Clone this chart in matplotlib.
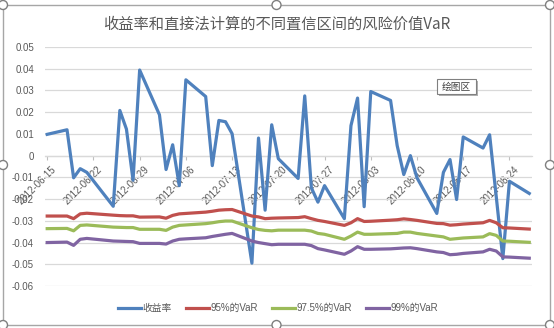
import matplotlib
matplotlib.use("Agg")
import matplotlib.pyplot as plt
import matplotlib.dates as mdates
from matplotlib.patches import Rectangle, Circle
from matplotlib.transforms import ScaledTranslation
from matplotlib.ticker import FuncFormatter, MultipleLocator
import pandas as pd

plt.rcParams['font.family'] = ['Liberation Sans', 'Noto Sans CJK SC', 'DejaVu Sans']

dates = ["2012-06-15", "2012-06-18", "2012-06-19", "2012-06-20", "2012-06-21",
         "2012-06-25", "2012-06-26", "2012-06-27", "2012-06-28", "2012-06-29",
         "2012-07-02", "2012-07-03", "2012-07-04", "2012-07-05", "2012-07-06",
         "2012-07-09", "2012-07-10", "2012-07-11", "2012-07-12", "2012-07-13",
         "2012-07-16", "2012-07-17", "2012-07-18", "2012-07-19", "2012-07-20",
         "2012-07-23", "2012-07-24", "2012-07-25", "2012-07-26", "2012-07-27",
         "2012-07-30", "2012-07-31", "2012-08-01", "2012-08-02", "2012-08-03",
         "2012-08-06", "2012-08-07", "2012-08-08", "2012-08-09", "2012-08-10",
         "2012-08-13", "2012-08-14", "2012-08-15", "2012-08-16", "2012-08-17",
         "2012-08-20", "2012-08-21", "2012-08-22", "2012-08-23", "2012-08-24",
         "2012-08-27"]

returns = [0.0098, 0.0119, -0.0102, -0.0060, -0.0077,
           -0.0233, 0.0208, 0.0122, -0.0113, 0.0394,
           0.0188, -0.0064, 0.0050, -0.0138, 0.0349,
           0.0272, -0.0046, 0.0162, 0.0156, 0.0101,
           -0.0495, 0.0081, -0.0251, 0.0142, -0.0014,
           -0.0105, 0.0275, -0.0148, -0.0214, -0.0138,
           -0.0290, 0.0138, 0.0265, -0.0235, 0.0295,
           0.0254, 0.0046, -0.0087, 0.0000, -0.0102,
           -0.0266, -0.0077, -0.0018, -0.0202, 0.0086,
           0.0035, 0.0096, -0.0188, -0.0474, -0.0118,
           -0.0174]

var95 = [-0.0278, -0.0278, -0.0290, -0.0268, -0.0265,
         -0.0274, -0.0276, -0.0277, -0.0277, -0.0283,
         -0.0282, -0.0288, -0.0275, -0.0268, -0.0266,
         -0.0260, -0.0256, -0.0251, -0.0249, -0.0248,
         -0.0278, -0.0282, -0.0290, -0.0288, -0.0287,
         -0.0285, -0.0281, -0.0290, -0.0298, -0.0303,
         -0.0321, -0.0309, -0.0290, -0.0303, -0.0302,
         -0.0297, -0.0295, -0.0291, -0.0294, -0.0298,
         -0.0312, -0.0313, -0.0320, -0.0318, -0.0315,
         -0.0309, -0.0298, -0.0309, -0.0332, -0.0333,
         -0.0338]

var975 = [-0.0336, -0.0335, -0.0346, -0.0321, -0.0319,
          -0.0329, -0.0330, -0.0331, -0.0331, -0.0339,
          -0.0339, -0.0344, -0.0329, -0.0321, -0.0319,
          -0.0313, -0.0309, -0.0304, -0.0301, -0.0301,
          -0.0332, -0.0340, -0.0344, -0.0346, -0.0343,
          -0.0343, -0.0343, -0.0347, -0.0358, -0.0362,
          -0.0385, -0.0370, -0.0352, -0.0362, -0.0362,
          -0.0359, -0.0358, -0.0352, -0.0352, -0.0358,
          -0.0370, -0.0374, -0.0385, -0.0382, -0.0379,
          -0.0374, -0.0359, -0.0367, -0.0393, -0.0394,
          -0.0399]

var99 = [-0.0400, -0.0398, -0.0413, -0.0385, -0.0381,
         -0.0393, -0.0394, -0.0395, -0.0396, -0.0404,
         -0.0404, -0.0407, -0.0393, -0.0385, -0.0383,
         -0.0378, -0.0372, -0.0367, -0.0362, -0.0358,
         -0.0393, -0.0400, -0.0405, -0.0410, -0.0408,
         -0.0408, -0.0408, -0.0414, -0.0428, -0.0434,
         -0.0454, -0.0439, -0.0419, -0.0431, -0.0431,
         -0.0429, -0.0427, -0.0425, -0.0424, -0.0428,
         -0.0443, -0.0446, -0.0456, -0.0454, -0.0450,
         -0.0443, -0.0431, -0.0439, -0.0466, -0.0467,
         -0.0472]

series_names = ["收益率", "95%的VaR", "97.5%的VaR", "99%的VaR"]
series_colors = ["#4F81BD", "#C0504D", "#9BBB59", "#8064A2"]
title = "收益率和直接法计算的不同置信区间的风险价值VaR"
tooltip = "绘图区"

x = pd.to_datetime(dates)
tick_dates = pd.date_range("2012-06-15", "2012-08-24", freq="7D")

W, H = 554, 328
fig = plt.figure(figsize=(W / 100, H / 100), dpi=100)
fig.patch.set_facecolor("white")

# plot area
left, right, top, bottom = 45, 532, 47, 286
ax = fig.add_axes([left / W, 1 - bottom / H, (right - left) / W, (bottom - top) / H])
ax.set_facecolor("white")

for vals, name, col in zip([returns, var95, var975, var99], series_names, series_colors):
    ax.plot(x, vals, color=col, lw=2.3, label=name, solid_joinstyle="round", zorder=3)

ax.set_ylim(-0.06, 0.05)
ax.set_xlim(x[0] - pd.Timedelta(hours=8), x[-1] + pd.Timedelta(hours=10))
ax.yaxis.set_major_locator(MultipleLocator(0.01))
ax.yaxis.set_major_formatter(FuncFormatter(lambda v, p: "0" if abs(v) < 1e-9 else ("%g" % round(v, 2))))
ax.grid(axis="y", color="#d9d9d9", lw=0.9, zorder=0)
ax.tick_params(axis="y", length=0, labelsize=7, labelcolor="#595959", pad=8)

for s in ["top", "right", "left"]:
    ax.spines[s].set_visible(False)
ax.spines["bottom"].set_position(("data", 0))
ax.spines["bottom"].set_color("#d9d9d9")
ax.spines["bottom"].set_linewidth(0.9)

ax.set_xticks(tick_dates)
ax.set_xticklabels([d.strftime("%Y-%m-%d") for d in tick_dates])
ax.tick_params(axis="x", length=3, color="#bfbfbf", labelsize=7, labelcolor="#595959", pad=2)
offset = ScaledTranslation(4 / 100, -2 / 100, fig.dpi_scale_trans)
for lbl in ax.get_xticklabels():
    lbl.set_rotation(45)
    lbl.set_ha("right")
    lbl.set_va("top")
    lbl.set_rotation_mode("anchor")
    lbl.set_transform(lbl.get_transform() + offset)

# title
fig.text(277 / W, 1 - 24 / H, title, ha="center", va="center", fontsize=11,
         color="#595959", family=["Noto Sans CJK SC", "DejaVu Sans"])

# legend
leg = fig.legend(loc="center", bbox_to_anchor=(278 / W, 1 - 308 / H), ncol=4, frameon=False,
                 handlelength=2.4, handletextpad=0.15, columnspacing=1.4,
                 prop={"family": ["Liberation Sans", "Noto Sans CJK SC"], "size": 7})
for t in leg.get_texts():
    t.set_color("#595959")
for l in leg.get_lines():
    l.set_linewidth(2.3)

# tooltip box
fig.patches.append(Rectangle((439 / W, 1 - 96 / H), 39 / W, 15 / H, transform=fig.transFigure,
                             facecolor="#b0b0b0", edgecolor="none", zorder=4))
fig.patches.append(Rectangle((437 / W, 1 - 94 / H), 39 / W, 15 / H, transform=fig.transFigure,
                             facecolor="white", edgecolor="#808080", lw=0.8, zorder=5))
fig.text(456.5 / W, 1 - 86.5 / H, tooltip, ha="center", va="center", fontsize=7,
         color="#404040", family=["Noto Sans CJK SC"], zorder=6)

# chart border and selection handles
bx0, by0, bx1, by1 = 3, 5, 550, 325
fig.patches.append(Rectangle((bx0 / W, 1 - by1 / H), (bx1 - bx0) / W, (by1 - by0) / H,
                             transform=fig.transFigure, facecolor="none", edgecolor="#a6a6a6",
                             lw=1.0, zorder=1))
for hx, hy in [(bx0, by0), ((bx0 + bx1) / 2, by0), (bx1, by0), (bx0, (by0 + by1) / 2),
               (bx1, (by0 + by1) / 2), (bx0, by1), ((bx0 + bx1) / 2, by1), (bx1, by1)]:
    fig.add_artist(Circle((hx / 100, (H - hy) / 100), 0.045, transform=fig.dpi_scale_trans,
                          facecolor="white", edgecolor="#7f7f7f", lw=1.0, zorder=10))

fig.savefig("out.png", dpi=100, facecolor="white")
